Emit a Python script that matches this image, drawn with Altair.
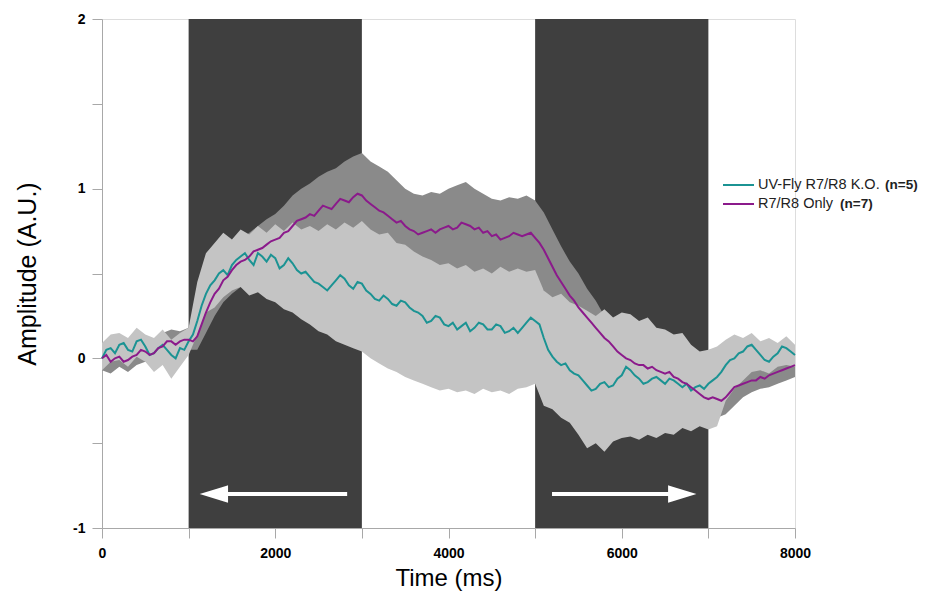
import altair as alt
import pandas as pd

# ---------------- data ----------------
# band envelopes, sampled every 100 ms
band_time = list(range(0, 8001, 100))

ko_hi = [0.09, 0.14, 0.15, 0.12, 0.18, 0.14, 0.12, 0.17, 0.11, 0.15,
         0.18, 0.45, 0.62, 0.68, 0.74, 0.70, 0.76, 0.73, 0.78, 0.74,
         0.79, 0.75, 0.80, 0.76, 0.78, 0.75, 0.79, 0.76, 0.80, 0.77,
         0.81, 0.76, 0.73, 0.74, 0.68, 0.67, 0.63, 0.60, 0.58, 0.55,
         0.56, 0.53, 0.55, 0.51, 0.53, 0.50, 0.54, 0.51, 0.53, 0.51,
         0.52, 0.40, 0.36, 0.38, 0.33, 0.31, 0.28, 0.25, 0.29, 0.24,
         0.27, 0.26, 0.22, 0.24, 0.18, 0.17, 0.14, 0.15, 0.08, 0.04,
         0.05, 0.07, 0.11, 0.14, 0.12, 0.15, 0.10, 0.12, 0.09, 0.13,
         0.08]
ko_lo = [-0.07, -0.02, -0.01, -0.05, 0.01, -0.02, -0.08, -0.04, -0.12, -0.05,
         0.02, 0.14, 0.27, 0.30, 0.36, 0.40, 0.42, 0.37, 0.39, 0.35,
         0.33, 0.29, 0.27, 0.23, 0.20, 0.16, 0.14, 0.10, 0.08, 0.06,
         0.04, 0.00, -0.03, -0.06, -0.08, -0.11, -0.13, -0.15, -0.17, -0.19,
         -0.18, -0.20, -0.19, -0.21, -0.18, -0.20, -0.19, -0.21, -0.18, -0.17,
         -0.15, -0.28, -0.30, -0.35, -0.38, -0.45, -0.53, -0.50, -0.55, -0.49,
         -0.47, -0.46, -0.48, -0.45, -0.47, -0.44, -0.45, -0.41, -0.43, -0.40,
         -0.42, -0.40, -0.25, -0.18, -0.13, -0.08, -0.07, -0.09, -0.05, -0.04,
         -0.05]
only_hi = [0.08, 0.06, 0.10, 0.07, 0.11, 0.12, 0.10, 0.15, 0.17, 0.16,
           0.18, 0.25, 0.40, 0.50, 0.58, 0.64, 0.70, 0.74, 0.78, 0.82,
           0.85, 0.90, 0.96, 1.00, 1.03, 1.07, 1.10, 1.12, 1.16, 1.19,
           1.21, 1.16, 1.13, 1.10, 1.05, 1.00, 0.97, 0.96, 0.98, 0.97,
           1.00, 1.02, 1.04, 1.00, 0.97, 0.94, 0.93, 0.95, 0.94, 0.96,
           0.93, 0.86, 0.76, 0.66, 0.57, 0.50, 0.41, 0.34, 0.25, 0.19,
           0.14, 0.10, 0.07, 0.05, 0.04, 0.02, 0.00, -0.03, -0.06, -0.10,
           -0.13, -0.14, -0.13, -0.08, -0.07, -0.05, -0.03, -0.02, 0.01, 0.03,
           0.04]
only_lo = [-0.07, -0.09, -0.05, -0.08, -0.04, -0.02, -0.03, 0.00, 0.03, 0.04,
           0.05, 0.05, 0.15, 0.25, 0.33, 0.38, 0.42, 0.45, 0.48, 0.50,
           0.53, 0.55, 0.58, 0.61, 0.63, 0.64, 0.66, 0.67, 0.69, 0.70,
           0.71, 0.68, 0.65, 0.62, 0.60, 0.59, 0.56, 0.53, 0.52, 0.51,
           0.52, 0.50, 0.51, 0.49, 0.50, 0.48, 0.50, 0.49, 0.51, 0.48,
           0.47, 0.40, 0.33, 0.24, 0.18, 0.12, 0.07, 0.02, -0.02, -0.05,
           -0.09, -0.12, -0.15, -0.17, -0.18, -0.20, -0.22, -0.25, -0.28, -0.31,
           -0.34, -0.35, -0.33, -0.28, -0.23, -0.20, -0.18, -0.17, -0.15, -0.13,
           -0.11]

# mean traces, sampled every 50 ms
line_time = list(range(0, 8001, 50))

ko_mean = [0.00, 0.05, 0.06, 0.03, 0.08, 0.09, 0.05, 0.04, 0.10, 0.11,
           0.07, 0.02, 0.03, 0.06, 0.08, 0.05, 0.02, 0.00, 0.06, 0.05,
           0.10, 0.14, 0.22, 0.31, 0.38, 0.43, 0.46, 0.50, 0.52, 0.49,
           0.55, 0.58, 0.60, 0.62, 0.58, 0.55, 0.62, 0.60, 0.57, 0.61,
           0.59, 0.53, 0.55, 0.59, 0.56, 0.52, 0.50, 0.51, 0.48, 0.45,
           0.44, 0.42, 0.40, 0.43, 0.46, 0.49, 0.47, 0.43, 0.41, 0.45,
           0.44, 0.40, 0.38, 0.35, 0.34, 0.37, 0.35, 0.32, 0.31, 0.34,
           0.33, 0.30, 0.28, 0.27, 0.25, 0.21, 0.22, 0.25, 0.24, 0.20,
           0.19, 0.21, 0.17, 0.19, 0.21, 0.16, 0.18, 0.21, 0.20, 0.17,
           0.17, 0.20, 0.19, 0.15, 0.16, 0.18, 0.15, 0.18, 0.21, 0.24,
           0.22, 0.20, 0.12, 0.05, 0.01, -0.02, -0.04, -0.03, -0.07, -0.09,
           -0.10, -0.13, -0.16, -0.19, -0.18, -0.15, -0.14, -0.17, -0.16, -0.12,
           -0.10, -0.05, -0.07, -0.10, -0.12, -0.15, -0.14, -0.12, -0.11, -0.13,
           -0.15, -0.12, -0.13, -0.15, -0.17, -0.15, -0.19, -0.17, -0.16, -0.18,
           -0.15, -0.13, -0.11, -0.08, -0.04, -0.01, 0.00, 0.03, 0.04, 0.07,
           0.08, 0.05, 0.02, -0.01, -0.02, 0.01, 0.03, 0.07, 0.06, 0.04,
           0.02]
only_mean = [0.00, 0.02, -0.02, 0.00, 0.01, -0.02, -0.01, 0.01, 0.02, 0.05,
             0.04, 0.02, 0.03, 0.06, 0.07, 0.10, 0.10, 0.08, 0.10, 0.11,
             0.11, 0.10, 0.13, 0.20, 0.27, 0.33, 0.38, 0.41, 0.46, 0.48,
             0.52, 0.55, 0.57, 0.58, 0.60, 0.63, 0.64, 0.65, 0.67, 0.69,
             0.70, 0.71, 0.74, 0.75, 0.78, 0.81, 0.82, 0.83, 0.85, 0.84,
             0.87, 0.90, 0.89, 0.88, 0.91, 0.94, 0.93, 0.92, 0.95, 0.97,
             0.96, 0.93, 0.91, 0.89, 0.87, 0.86, 0.84, 0.82, 0.80, 0.81,
             0.78, 0.76, 0.75, 0.73, 0.74, 0.75, 0.76, 0.74, 0.76, 0.77,
             0.78, 0.76, 0.77, 0.80, 0.79, 0.78, 0.76, 0.77, 0.74, 0.75,
             0.72, 0.73, 0.70, 0.71, 0.72, 0.74, 0.73, 0.72, 0.73, 0.74,
             0.71, 0.68, 0.64, 0.59, 0.54, 0.49, 0.45, 0.41, 0.37, 0.34,
             0.30, 0.27, 0.24, 0.21, 0.18, 0.15, 0.12, 0.10, 0.07, 0.04,
             0.02, 0.00, -0.01, -0.03, -0.04, -0.04, -0.06, -0.05, -0.07, -0.08,
             -0.09, -0.08, -0.11, -0.12, -0.14, -0.15, -0.17, -0.19, -0.21, -0.23,
             -0.24, -0.23, -0.24, -0.25, -0.23, -0.20, -0.17, -0.16, -0.15, -0.14,
             -0.13, -0.13, -0.11, -0.12, -0.10, -0.09, -0.08, -0.07, -0.06, -0.05,
             -0.04]

# stimulus periods (dark blocks)
stim_start = [1000, 5000]
stim_end = [3000, 7000]
stim_bottom = [-1, -1]
stim_top = [2, 2]

# motion-direction arrows
arrow_y = [-0.8, -0.8]
shaft_from = [2830, 5195]
shaft_to = [1330, 6670]
head_left_x = [1305]
head_right_x = [6685]

# legend
legend_names = ["UV-Fly R7/R8 K.O.", "R7/R8 Only"]
legend_counts = ["(n=5)", "(n=7)"]

x_ticks = [0, 1000, 2000, 3000, 4000, 5000, 6000, 7000, 8000]
y_ticks = [-1, -0.5, 0, 0.5, 1, 1.5, 2]

TEAL = "#1b9393"
PURPLE = "#8b1a8b"
FONT = "Liberation Sans"

band_df = pd.DataFrame({
    "t": band_time,
    "ko_lo": ko_lo, "ko_hi": ko_hi,
    "only_lo": only_lo, "only_hi": only_hi,
})
line_df = pd.DataFrame({"t": line_time, "ko_mean": ko_mean, "only_mean": only_mean})
stim_df = pd.DataFrame({"s": stim_start, "e": stim_end, "b": stim_bottom, "top": stim_top})
arrow_df = pd.DataFrame({"a": shaft_from, "b": shaft_to, "y": arrow_y})
head_l_df = pd.DataFrame({"x": head_left_x, "y": arrow_y[:1]})
head_r_df = pd.DataFrame({"x": head_right_x, "y": arrow_y[1:]})

W, H = 693, 509
xs = alt.Scale(domain=[0, 8000], nice=False, zero=False)
ys = alt.Scale(domain=[-1, 2], nice=False, zero=False)

x_axis = alt.Axis(
    values=x_ticks, grid=False, title="Time (ms)",
    labelExpr="datum.value % 2000 == 0 ? toString(datum.value) : ''",
    labelFont=FONT, labelFontSize=14, labelFontWeight="bold", labelColor="#000",
    labelPadding=8, tickSize=10, tickColor="#a8a8a8", domainColor="#a8a8a8",
    titleFont=FONT, titleFontSize=24, titleFontWeight="normal", titleColor="#000",
    titlePadding=6, labelFlush=False,
)
y_axis = alt.Axis(
    values=y_ticks, grid=False, title="Amplitude (A.U.)",
    labelExpr="datum.value % 1 == 0 ? toString(datum.value) : ''",
    labelFont=FONT, labelFontSize=14, labelFontWeight="bold", labelColor="#000",
    labelPadding=7, tickSize=10, tickColor="#a8a8a8", domainColor="#a8a8a8",
    titleFont=FONT, titleFontSize=25, titleFontWeight="normal", titleColor="#000",
    titlePadding=32, labelFlush=False,
)

X = lambda f: alt.X(f, scale=xs, axis=x_axis)
Y = lambda f: alt.Y(f, scale=ys, axis=y_axis)

rects = alt.Chart(stim_df).mark_rect(color="#3f3f3f").encode(
    x=X("s:Q"), x2="e:Q", y=Y("b:Q"), y2="top:Q",
)

band_only = alt.Chart(band_df).mark_area(color="#8a8a8a", opacity=1).encode(
    x=X("t:Q"), y=Y("only_lo:Q"), y2="only_hi:Q",
)
band_ko = alt.Chart(band_df).mark_area(color="#c4c4c4", opacity=1).encode(
    x=X("t:Q"), y=Y("ko_lo:Q"), y2="ko_hi:Q",
)
line_ko = alt.Chart(line_df).mark_line(color=TEAL, strokeWidth=2).encode(
    x=X("t:Q"), y=Y("ko_mean:Q"),
)
line_only = alt.Chart(line_df).mark_line(color=PURPLE, strokeWidth=2).encode(
    x=X("t:Q"), y=Y("only_mean:Q"),
)

shafts = alt.Chart(arrow_df).mark_rule(color="white", strokeWidth=4).encode(
    x=X("a:Q"), x2="b:Q", y=Y("y:Q"),
)
head_l = alt.Chart(head_l_df).mark_point(
    shape="M 1 -0.62 L -1 0 L 1 0.62 Z", filled=True, fill="white",
    stroke="white", opacity=1, size=576,
).encode(x=X("x:Q"), y=Y("y:Q"))
head_r = alt.Chart(head_r_df).mark_point(
    shape="M -1 -0.62 L 1 0 L -1 0.62 Z", filled=True, fill="white",
    stroke="white", opacity=1, size=576,
).encode(x=X("x:Q"), y=Y("y:Q"))

# manual legend (label text is partly bold)
leg = pd.DataFrame({
    "name": legend_names, "count": legend_counts,
    "col": [TEAL, PURPLE],
    "ly": [166, 185], "cx": [783, 738],
})
leg_lines = alt.Chart(leg).mark_rule(strokeWidth=2).encode(
    x=alt.value(621), x2=alt.value(652), y=alt.Y("ly:Q", scale=None),
    color=alt.Color("col:N", scale=None),
)
leg_names = alt.Chart(leg).mark_text(
    align="left", baseline="middle", font=FONT, fontSize=14.5, color="#222",
).encode(x=alt.value(656), y=alt.Y("ly:Q", scale=None), text="name:N")
leg_counts = alt.Chart(leg).mark_text(
    align="left", baseline="middle", font=FONT, fontSize=13.5, fontWeight="bold", color="#222",
).encode(x=alt.X("cx:Q", scale=None), y=alt.Y("ly:Q", scale=None), text="count:N")

chart = alt.layer(
    rects, band_only, band_ko, line_ko, line_only, shafts, head_l, head_r,
    leg_lines, leg_names, leg_counts,
).properties(
    width=W, height=H,
    autosize=alt.AutoSizeParams(type="none"),
    padding={"left": 94, "top": 11, "right": 124, "bottom": 66},
).configure_view(stroke=None).configure(background="white")

chart.save("out.html", embed_options={"renderer": "svg", "actions": False})
